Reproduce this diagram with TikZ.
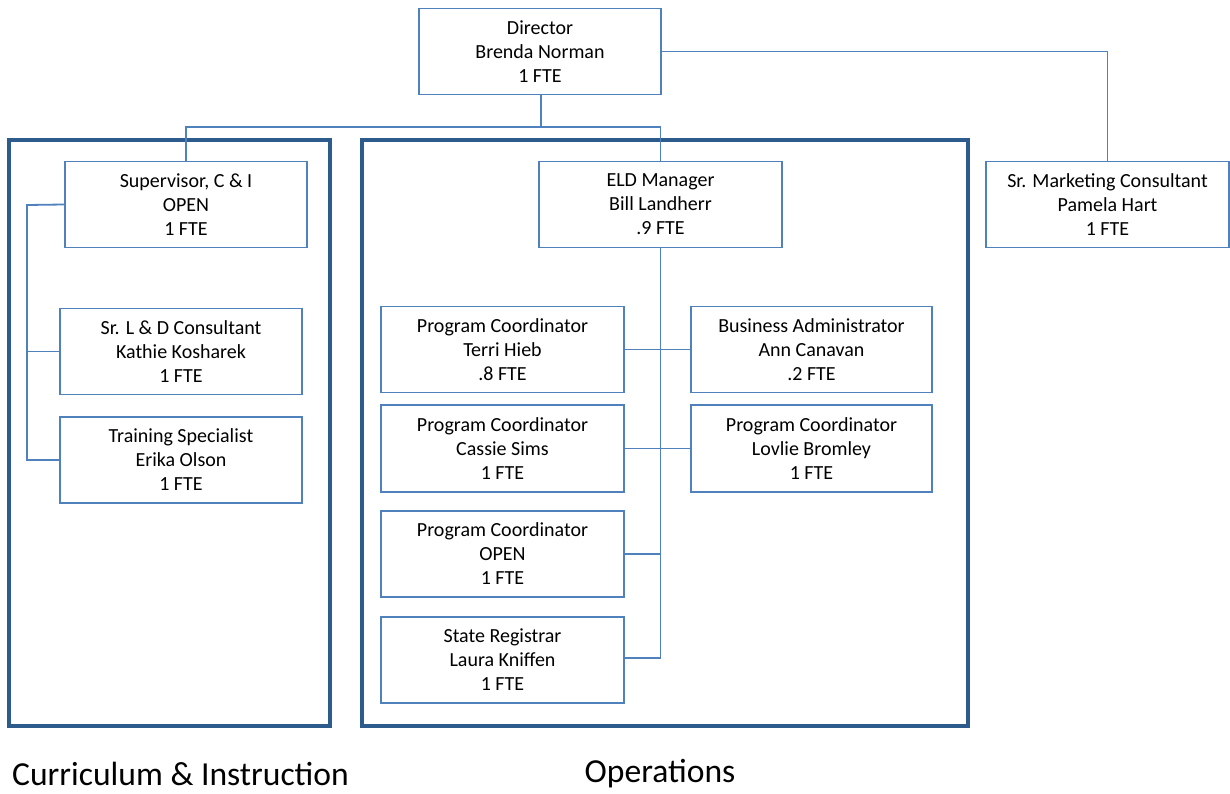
\documentclass[tikz,border=0pt]{standalone}
\usepackage{fontspec}
\setmainfont{Carlito}
\definecolor{boxblue}{HTML}{4F81BD}
\definecolor{frameblue}{HTML}{2C5B8C}
\begin{document}
\begin{tikzpicture}[x=1pt,y=-1pt,
  role/.style={draw=boxblue,line width=1.8pt,fill=white,align=center,
    font=\fontsize{20}{24}\selectfont,inner sep=0pt,
    minimum width=#1,minimum height=86},
  role/.default=242,
  link/.style={draw=boxblue,line width=1.8pt},
  group/.style={draw=frameblue,line width=3.2pt},
  grouplabel/.style={font=\fontsize{33.6}{38}\selectfont,inner sep=0pt}]
\useasboundingbox (0,0) rectangle (1230,794);

% department frames
\draw[group] (9,140) rectangle (330,726);
\draw[group] (362,140) rectangle (968,726);

% positions
\node[role] (dir) at (540,51.5) {Director\\Brenda Norman\\1 FTE};
\node[role] (sup) at (186,204.5) {Supervisor, C \& I\\OPEN\\1 FTE};
\node[role=243] (eld) at (660.5,204.5) {ELD Manager\\Bill Landherr\\.9 FTE};
\node[role=243] (mkt) at (1107.5,204.5) {Sr. Marketing Consultant\\Pamela Hart\\1 FTE};
\node[role] (ld) at (181,351.5) {Sr. L \& D Consultant\\Kathie Kosharek\\1 FTE};
\node[role] (ts) at (181,460) {Training Specialist\\Erika Olson\\1 FTE};
\node[role=243] (pc1) at (502.5,349.5) {Program Coordinator\\Terri Hieb\\.8 FTE};
\node[role=241] (ba) at (811.5,349.5) {Business Administrator\\Ann Canavan\\.2 FTE};
\node[role=243,minimum height=87] (pc2) at (502.5,448.5) {Program Coordinator\\Cassie Sims\\1 FTE};
\node[role=241,minimum height=87] (pc3) at (811.5,448.5) {Program Coordinator\\Lovlie Bromley\\1 FTE};
\node[role=243] (pc4) at (502.5,554) {Program Coordinator\\OPEN\\1 FTE};
\node[role=243] (reg) at (502.5,660) {State Registrar\\Laura Kniffen\\1 FTE};

% junction points
\coordinate (bus) at (541,127);
\coordinate (cispine) at (27,205);
\coordinate (opsend) at (660.5,658);

% connectors
\draw[link] (dir.south -| bus) -- (bus);
\draw[link] (sup.north) |- (bus) -| (eld.north);
\draw[link] (dir.east) -| (mkt.north);
\draw[link] (sup.west) -- (cispine) |- (ts.west);
\draw[link] (cispine |- ld.west) -- (ld.west);
\draw[link] (eld.south) -- (opsend);
\draw[link] (pc1.east) -- (ba.west);
\draw[link] (pc2.east) -- (pc3.west);
\draw[link] (pc4.east) -- (pc4.east -| eld.south);
\draw[link] (reg.east |- opsend) -- (opsend);

% department names
\node[grouplabel,anchor=west] (cilabel) at (12,774) {Curriculum \& Instruction};
\node[grouplabel] (opslabel) at (660,774) {Operations};
\end{tikzpicture}
\end{document}
